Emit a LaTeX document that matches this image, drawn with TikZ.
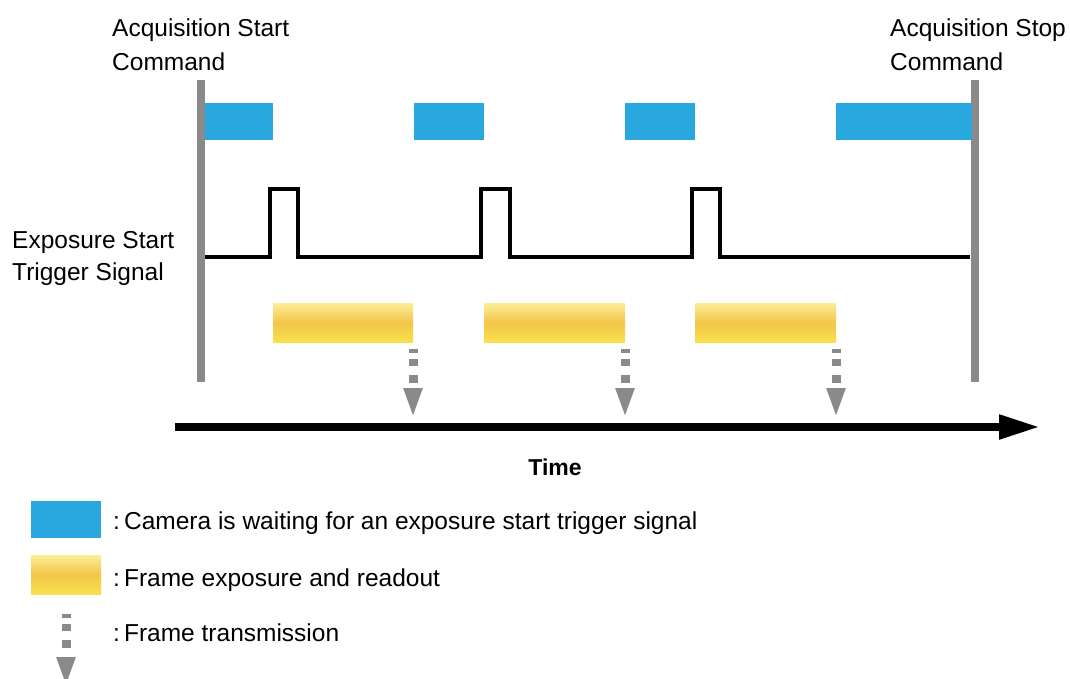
\documentclass[tikz,border=0pt]{standalone}
\usepackage{fontspec}
\setmainfont{Liberation Sans}
\usetikzlibrary{arrows.meta}
\definecolor{waitblue}{RGB}{41,168,224}
\definecolor{railgrey}{RGB}{138,138,138}
\definecolor{expA}{RGB}{252,238,150}
\definecolor{expB}{RGB}{242,198,74}
\definecolor{expC}{RGB}{249,224,76}
\begin{document}
\begin{tikzpicture}[x=1pt,y=-1pt,line join=miter,font=\fontsize{24.5}{34}\selectfont,
	lbl/.style={inner sep=0,anchor=base west,align=left},
	waitbar/.style={fill=waitblue},
	expbar/.style={top color=expA,bottom color=expC,middle color=expB},
	rail/.style={railgrey,line width=8pt},
	sendarrow/.style={railgrey,line width=9pt,dash pattern=on 4pt off 6pt on 7pt off 9pt on 8pt off 20pt,-{Triangle[length=30pt,width=17pt]}}]
	\useasboundingbox (0,0) rectangle (1070,679);
	% rails for start and stop command
	\draw[rail] (201,80) -- (201,382);
	\draw[rail] (975,80) -- (975,382);
	\node[lbl] (startcmd) at (112,71) {Acquisition Start\\Command};
	\node[lbl] (stopcmd) at (890,71) {Acquisition Stop\\Command};
	% waiting for trigger
	\fill[waitbar] (205,103) rectangle (273,140);
	\fill[waitbar] (414,103) rectangle (484,140);
	\fill[waitbar] (625,103) rectangle (695,140);
	\fill[waitbar] (836,103) rectangle (972,140);
	% trigger signal
	\node[lbl,font=\fontsize{24.5}{32}\selectfont] (trig) at (12,280) {Exposure Start\\Trigger Signal};
	\draw[line width=3.5pt] (205,257) -| (270,189) -| (298,257) -| (481,189) -| (510,257)
		-| (692,189) -| (720,257) -- (970,257);
	% exposure and readout, then transmission
	\foreach \xa/\xb in {273/413,484/625,695/836}{
		\shade[expbar] (\xa,303) rectangle (\xb,342);
		\draw[sendarrow] (\xb,349) -- (\xb,418);
	}
	% time axis
	\coordinate (t0) at (175,427);
	\coordinate (t1) at (1040,427);
	\draw[line width=8pt,-{Triangle[length=41pt,width=23pt]}] (t0) -- (t1);
	\node[font=\fontsize{23}{28}\selectfont\bfseries] (time) at (555,467) {Time};
	% legend
	\fill[waitbar] (31,501) rectangle (101,538);
	\node[lbl] (lgwait) at (113,529) {:\,Camera is waiting for an exposure start trigger signal};
	\shade[expbar] (31,555) rectangle (101,594);
	\node[lbl] (lgexp) at (113,586) {:\,Frame exposure and readout};
	\draw[sendarrow] (66,614) -- (66,687);
	\node[lbl] (lgsend) at (113,641) {:\,Frame transmission};
\end{tikzpicture}
\end{document}
